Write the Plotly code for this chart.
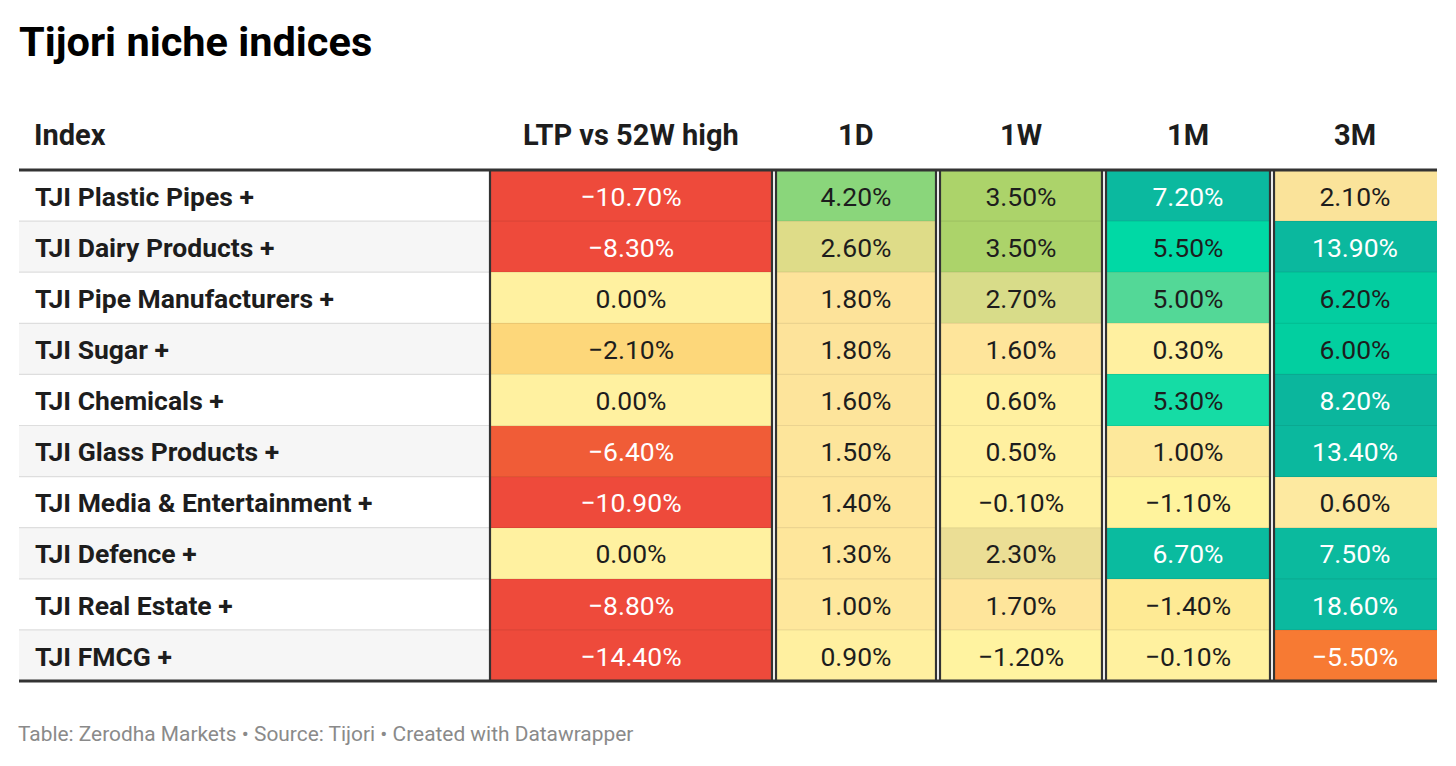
import plotly.graph_objects as go
from plotly.colors import hex_to_rgb

# ------------------------------------------------------------------ data
INDEX_NAMES = [
    "TJI Plastic Pipes +",
    "TJI Dairy Products +",
    "TJI Pipe Manufacturers +",
    "TJI Sugar +",
    "TJI Chemicals +",
    "TJI Glass Products +",
    "TJI Media & Entertainment +",
    "TJI Defence +",
    "TJI Real Estate +",
    "TJI FMCG +",
]
COLUMN_LABELS = ["Index", "LTP vs 52W high", "1D", "1W", "1M", "3M"]
LTP_VS_52W_HIGH = [-10.7, -8.3, 0.0, -2.1, 0.0, -6.4, -10.9, 0.0, -8.8, -14.4]
RET_1D = [4.2, 2.6, 1.8, 1.8, 1.6, 1.5, 1.4, 1.3, 1.0, 0.9]
RET_1W = [3.5, 3.5, 2.7, 1.6, 0.6, 0.5, -0.1, 2.3, 1.7, -1.2]
RET_1M = [7.2, 5.5, 5.0, 0.3, 5.3, 1.0, -1.1, 6.7, -1.4, -0.1]
RET_3M = [2.1, 13.9, 6.2, 6.0, 8.2, 13.4, 0.6, 7.5, 18.6, -5.5]

TITLE = "Tijori niche indices"
SOURCE_NOTE = "Table: Zerodha Markets \u2022 Source: Tijori \u2022 Created with Datawrapper"

# ------------------------------------------------------------------ styles
FONT = "Roboto"
TEXT_DARK = "#1d1d1d"
BORDER_DARK = "#333333"
BODY_SIZE = 26.5
HEAD_SIZE = 29
TEXT_DY = 0.07  # small downward nudge so glyphs sit optically centred in rows

# colour scales per column: (value, colour) stops
SCALE_STOPS = {
    "LTP vs 52W high": [(-14.4, "#ee4a3b"), (-8.3, "#ee4a3b"), (-6.4, "#f05c37"),
                        (-2.1, "#fdd77a"), (0.0, "#fff1a0")],
    "1D": [(0.9, "#fff0a0"), (1.0, "#fee79c"), (1.8, "#fde39a"),
           (2.6, "#dedc88"), (4.2, "#8ad67b")],
    "1W": [(-1.2, "#fff3a0"), (0.6, "#fff0a0"), (1.6, "#fee59b"), (1.7, "#fee59b"),
           (2.3, "#ebde95"), (2.7, "#d8dc89"), (3.5, "#acd36a")],
    "1M": [(-1.4, "#feea94"), (-1.1, "#fff39d"), (0.3, "#fff0a0"), (1.0, "#fde89b"),
           (5.0, "#53d897"), (5.3, "#15dca5"), (5.5, "#00d9a5"), (6.7, "#0abb9f"),
           (7.2, "#0bb99f")],
    "3M": [(-5.5, "#f77a33"), (0.6, "#fde9a0"), (2.1, "#fae39a"), (6.0, "#02cfa0"),
           (6.2, "#03cda0"), (7.5, "#0bba9e"), (8.2, "#0bb69d"), (18.6, "#0bb99f")],
}

# column geometry in pixel-like x units (plot area is 1418 px wide)
INDEX_SPAN = (0, 470)
COL_SPANS = {
    "LTP vs 52W high": (470, 754),
    "1D": (756, 918),
    "1W": (920, 1084),
    "1M": (1086, 1252),
    "3M": (1254, 1418),
}
HEADER_Y = -1.18

# the page body has an 8px margin, so the figure is drawn 8px in from the corner
OFF = 8
W, H = 1456 - 2 * OFF, 766 - 2 * OFF
M_L, M_R = 19 - OFF, 19 - OFF
M_T = 105 - OFF
M_B = H - (690 - OFF)
ROW_PX = 51.1
PLOT_H = H - M_T - M_B
Y_TOP = -0.5 - (170 - 105) / ROW_PX
Y_BOT = Y_TOP + PLOT_H / ROW_PX


def fmt(v):
    s = f"{v:.2f}%"
    return s.replace("-", "\u2212")


def interp_color(stops, v):
    if v <= stops[0][0]:
        return hex_to_rgb(stops[0][1])
    for (a, ca), (b, cb) in zip(stops[:-1], stops[1:]):
        if a <= v <= b:
            t = 0 if b == a else (v - a) / (b - a)
            ra, rb = hex_to_rgb(ca), hex_to_rgb(cb)
            return tuple(ra[k] + (rb[k] - ra[k]) * t for k in range(3))
    return hex_to_rgb(stops[-1][1])


def luminance(rgb):
    def lin(c):
        c = c / 255
        return c / 12.92 if c <= 0.04045 else ((c + 0.055) / 1.055) ** 2.4
    r, g, b = (lin(c) for c in rgb)
    return 0.2126 * r + 0.7152 * g + 0.0722 * b


def to_colorscale(stops):
    lo, hi = stops[0][0], stops[-1][0]
    return [[(v - lo) / (hi - lo), c] for v, c in stops]


COLUMN_VALUES = {
    "LTP vs 52W high": LTP_VS_52W_HIGH,
    "1D": RET_1D,
    "1W": RET_1W,
    "1M": RET_1M,
    "3M": RET_3M,
}

rows = list(range(len(INDEX_NAMES)))
text_rows = [r + TEXT_DY for r in rows]
fig = go.Figure()

# index column: zebra background
fig.add_trace(go.Heatmap(
    z=[[i % 2] for i in rows],
    x0=(INDEX_SPAN[0] + INDEX_SPAN[1]) / 2, dx=INDEX_SPAN[1] - INDEX_SPAN[0],
    y0=0, dy=1,
    zmin=0, zmax=1,
    colorscale=[[0, "#ffffff"], [1, "#f6f6f6"]],
    showscale=False, hoverinfo="skip",
))
fig.add_trace(go.Scatter(
    x=[INDEX_SPAN[0] + 16] * len(rows), y=text_rows, mode="text",
    text=INDEX_NAMES, textposition="middle right",
    textfont=dict(family=FONT, size=BODY_SIZE, color=TEXT_DARK, weight=700),
    hoverinfo="skip", showlegend=False,
))

# value columns
for name, vals in COLUMN_VALUES.items():
    stops = SCALE_STOPS[name]
    x_lo, x_hi = COL_SPANS[name]
    xc = (x_lo + x_hi) / 2
    fig.add_trace(go.Heatmap(
        z=[[v] for v in vals],
        x0=xc, dx=x_hi - x_lo, y0=0, dy=1,
        zmin=stops[0][0], zmax=stops[-1][0],
        colorscale=to_colorscale(stops),
        showscale=False, hoverinfo="skip",
    ))
    txt_colors = ["#ffffff" if luminance(interp_color(stops, v)) < 0.42 else TEXT_DARK
                  for v in vals]
    fig.add_trace(go.Scatter(
        x=[xc] * len(vals), y=text_rows, mode="text",
        text=[fmt(v) for v in vals], textposition="middle center",
        textfont=dict(family=FONT, size=BODY_SIZE, color=txt_colors),
        hoverinfo="skip", showlegend=False,
    ))

# header labels
annotations = [dict(
    x=INDEX_SPAN[0] + 16, y=HEADER_Y, xref="x", yref="y", text=COLUMN_LABELS[0],
    xanchor="left", yanchor="middle", showarrow=False, xshift=-3,
    font=dict(family=FONT, size=HEAD_SIZE, color=TEXT_DARK, weight=700),
)]
for name in COLUMN_LABELS[1:]:
    x_lo, x_hi = COL_SPANS[name]
    annotations.append(dict(
        x=(x_lo + x_hi) / 2, y=HEADER_Y, xref="x", yref="y", text=name,
        xanchor="center", yanchor="middle", showarrow=False,
        font=dict(family=FONT, size=HEAD_SIZE, color=TEXT_DARK, weight=700),
    ))
annotations.append(dict(
    x=0, y=-(734 - 690) / PLOT_H, xref="paper", yref="paper", xshift=-3,
    text=SOURCE_NOTE, xanchor="left", yanchor="middle", showarrow=False,
    font=dict(family=FONT, size=20.9, color="#8a8a8a"),
))

# rules and borders
shapes = []
n = len(rows)
for i in range(n - 1):
    yb = i + 0.5
    shapes.append(dict(type="line", xref="x", yref="y", x0=INDEX_SPAN[0], x1=INDEX_SPAN[1],
                       y0=yb, y1=yb, line=dict(color="#dedede", width=1.2), layer="above"))
    for name, (x_lo, x_hi) in COL_SPANS.items():
        shapes.append(dict(type="line", xref="x", yref="y", x0=x_lo, x1=x_hi,
                           y0=yb, y1=yb, line=dict(color="rgba(0,0,0,0.07)", width=1.2),
                           layer="above"))
names = list(COL_SPANS.keys())
for k, name in enumerate(names):
    x_lo, x_hi = COL_SPANS[name]
    edges = [x_lo + 1] if k == len(names) - 1 else [x_lo + 1, x_hi - 1]
    for xe in edges:
        shapes.append(dict(type="line", xref="x", yref="y", x0=xe, x1=xe,
                           y0=-0.5, y1=n - 0.5, line=dict(color=BORDER_DARK, width=2.2),
                           layer="above"))
for yl in (-0.5, n - 0.5):
    shapes.append(dict(type="line", xref="x", yref="y", x0=0, x1=1418,
                       y0=yl, y1=yl, line=dict(color=BORDER_DARK, width=3.2), layer="above"))

fig.update_layout(
    width=W, height=H,
    margin=dict(l=M_L, r=M_R, t=M_T, b=M_B, pad=0),
    paper_bgcolor="#ffffff", plot_bgcolor="#ffffff",
    title=dict(text=TITLE, x=M_L / W, xref="container", xanchor="left",
               y=1 - (41 - OFF) / H, yref="container", yanchor="middle",
               font=dict(family=FONT, size=41.5, color="#000000", weight=700)),
    xaxis=dict(range=[0, 1418], visible=False, fixedrange=True),
    yaxis=dict(range=[Y_BOT, Y_TOP], visible=False, fixedrange=True),
    annotations=annotations,
    shapes=shapes,
    showlegend=False,
)

fig.write_html("out.html")
